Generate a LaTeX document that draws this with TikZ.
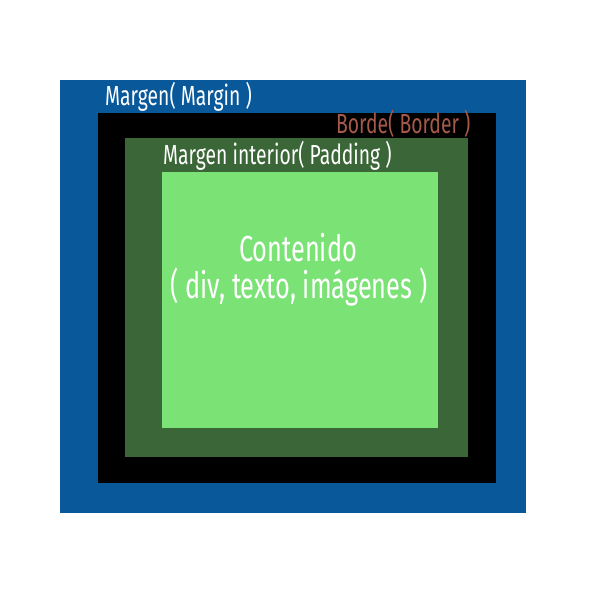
\documentclass[tikz,border=0pt]{standalone}
\usepackage{fontspec}
\setmainfont[FakeStretch=0.7]{Fira Sans}
\usetikzlibrary{positioning}

\definecolor{marginblue}{HTML}{08589A}
\definecolor{paddinggreen}{HTML}{3B6638}
\definecolor{contentgreen}{HTML}{7BE276}
\definecolor{bordertext}{HTML}{A65A4A}

\begin{document}
\begin{tikzpicture}[
        %Pixel units, y axis going down
        x=1pt, y=-1pt,
        layer box/.style={inner sep=0pt, outer sep=0pt, anchor=north west},
        box label/.style={font=\fontsize{27.6}{28}\selectfont, inner sep=0pt, anchor=base west},
        content label/.style={font=\fontsize{36.2}{37}\selectfont, inner sep=0pt, anchor=base, white}
     ]
    \useasboundingbox (0,0) rectangle (600,600);
    % The nested boxes
    \node[layer box, fill=marginblue, minimum width=466pt, minimum height=433pt] (margin) at (60,80) {};
    \node[layer box, fill=black, minimum width=398pt, minimum height=370pt] (border) at (98,113) {};
    \node[layer box, fill=paddinggreen, minimum width=343pt, minimum height=319pt] (padding) at (125,138) {};
    \node[layer box, fill=contentgreen, minimum width=276pt, minimum height=256pt] (content) at (162,172) {};
    % Labels of the boxes
    \node[box label, white] (marginlabel) at (105,105.7) {Margen( Margin )};
    \node[box label, bordertext] (borderlabel) at (336,133.3) {Borde( Border )};
    \node[box label, white] (paddinglabel) at (163,164.3) {Margen interior( Padding )};
    % Text inside the content
    \node[content label] (contenttext) at (298,261) {Contenido};
    \node[content label] (contentsub) at (299,298.3) {( div, texto, imágenes )};
\end{tikzpicture}
\end{document}
